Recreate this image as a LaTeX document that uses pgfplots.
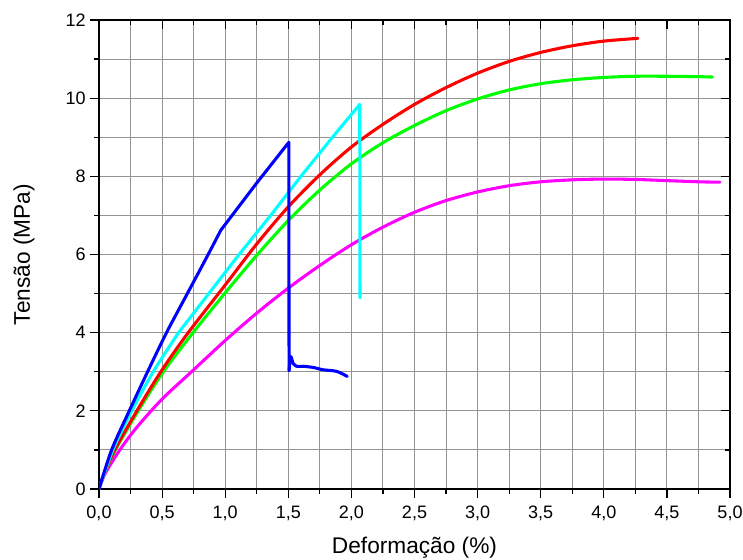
\documentclass[border=0pt]{standalone}
\usepackage{fontspec}
\setmainfont{Liberation Sans}
\usepackage{pgfplots}
\pgfplotsset{compat=1.18}
\definecolor{cblue}{RGB}{0,0,255}
\definecolor{cred}{RGB}{255,0,0}
\definecolor{cgreen}{RGB}{0,255,0}
\definecolor{ccyan}{RGB}{0,255,255}
\definecolor{cmag}{RGB}{255,0,255}
\pgfplotsset{
  common/.style={
    width=473.25pt, height=351.75pt, scale only axis,
    xmin=0, xmax=5, ymin=0, ymax=12,
    xtick={0,0.5,...,5}, ytick={0,2,...,12},
    minor x tick num=1, minor y tick num=1,
    axis line style={line width=1.1pt},
    tick style={black, line width=0.9pt},
    major tick length=6.5pt, minor tick length=3.5pt,
  }
}
\begin{document}
\begin{tikzpicture}
\begin{axis}[common, name=ax,
  tick align=outside, xtick pos=bottom, ytick pos=left,
  grid=both,
  grid style={black!42, line width=0.8pt},
  major grid style={black!42, line width=0.8pt},
  /pgf/number format/assume math mode=true,
  ticklabel style={font=\fontsize{13.5}{15}\selectfont},
  xticklabel style={yshift=-2.5pt, /pgf/number format/.cd, fixed, fixed zerofill, precision=1, use comma},
  xlabel={Deformação (\%)}, ylabel={Tensão (MPa)},
  every axis x label/.style={at={(axis description cs:0.5,-0.126)}, anchor=center, font=\fontsize{17}{19}\selectfont},
  every axis y label/.style={at={(axis description cs:-0.119,0.5)}, rotate=90, anchor=center, font=\fontsize{17}{19}\selectfont},
  every axis plot/.append style={line width=2.3pt, line join=round, line cap=round, no marks},
]
% magenta
\addplot[cmag, smooth] coordinates {(0,0) (0.05,0.4) (0.165,1.0) (0.3,1.58) (0.5,2.3) (0.75,3.05) (1.0,3.8) (1.25,4.5) (1.5,5.14) (1.75,5.72) (2.0,6.25) (2.25,6.7) (2.5,7.08) (2.75,7.38) (3.0,7.6) (3.25,7.76) (3.5,7.86) (3.75,7.91) (4.0,7.93) (4.25,7.92) (4.5,7.89) (4.75,7.86) (4.92,7.85)};
% green
\addplot[cgreen, smooth] coordinates {(0,0) (0.04,0.38) (0.13,1) (0.311,2) (0.51,3) (0.745,4) (1.0,5.02) (1.25,5.98) (1.5,6.87) (1.75,7.65) (2.0,8.32) (2.25,8.86) (2.5,9.3) (2.75,9.68) (3.0,9.98) (3.25,10.21) (3.5,10.37) (3.75,10.47) (4.0,10.53) (4.25,10.56) (4.5,10.56) (4.75,10.55) (4.86,10.54)};
% red
\addplot[cred, smooth] coordinates {(0,0) (0.04,0.38) (0.125,1.0) (0.3,2.0) (0.49,3.0) (0.7,3.97) (1.0,5.22) (1.25,6.27) (1.5,7.22) (1.75,8.04) (2.0,8.75) (2.25,9.33) (2.5,9.84) (2.75,10.27) (3.0,10.64) (3.25,10.94) (3.5,11.17) (3.75,11.34) (4.0,11.46) (4.27,11.53)};
% cyan
\addplot[ccyan, smooth] coordinates {(0,0) (0.11,1) (0.26,2) (0.43,3) (0.63,4)};
\addplot[ccyan] coordinates {(0.63,4) (0.87,5) (1.11,6) (1.36,7) (1.6,8) (1.85,9) (2.066,9.84) (2.068,4.89)};
% blue
\addplot[cblue, smooth] coordinates {(0,0) (0.1,1) (0.24,2) (0.385,3) (0.535,4) (0.70,5) (0.865,6) (0.965,6.62)};
\addplot[cblue] coordinates {(0.965,6.62) (1.25,7.83) (1.504,8.87) (1.506,3.03)};
\addplot[cblue, smooth] coordinates {(1.506,3.03) (1.518,3.39) (1.54,3.2) (1.565,3.14) (1.618,3.14) (1.697,3.11) (1.776,3.05) (1.883,3.01) (1.967,2.88)};
\end{axis}
\begin{axis}[common,
  tick align=inside, xtick pos=top, ytick pos=right,
  xticklabels={}, yticklabels={},
  axis line style={draw=none},
]
\addplot[draw=none] coordinates {(0,0)};
\end{axis}
\pgfresetboundingbox
\path[use as bounding box] ([shift={(-74.25pt,-52.5pt)}]ax.south west) rectangle ([shift={(9.75pt,15pt)}]ax.north east);
\end{tikzpicture}
\end{document}
